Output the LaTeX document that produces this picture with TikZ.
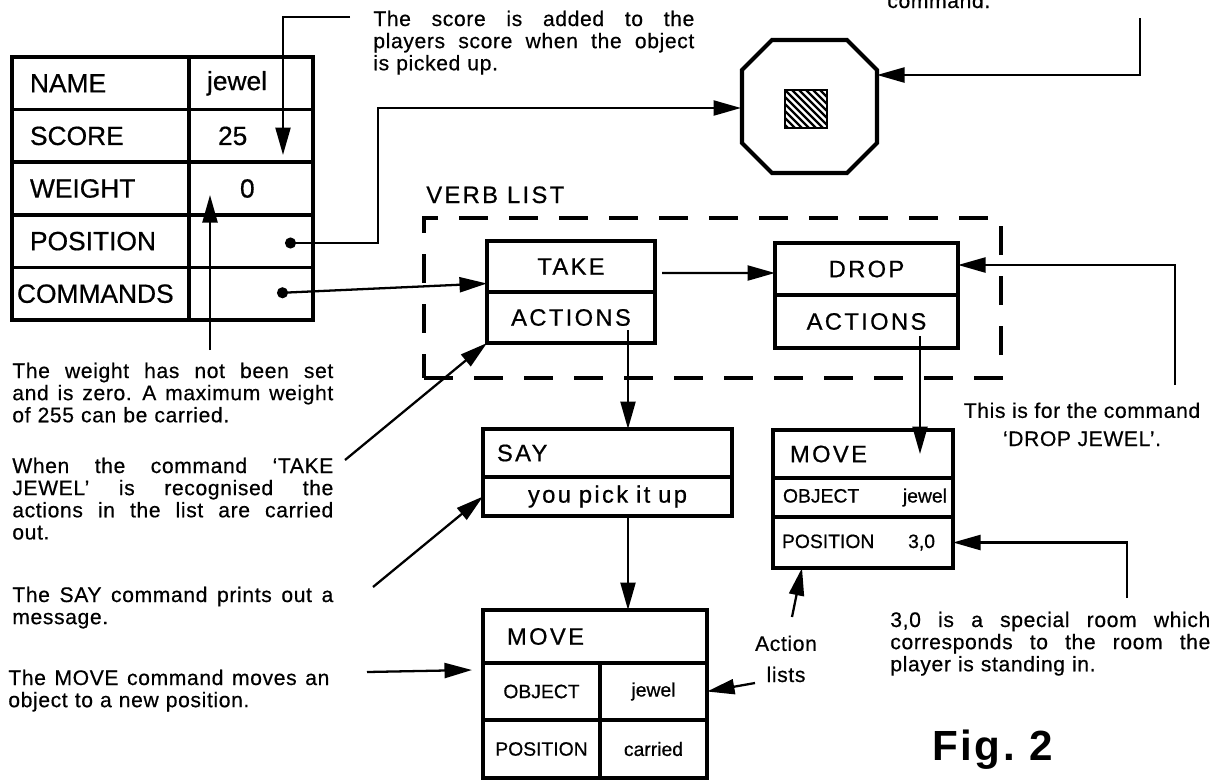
\documentclass[tikz,border=0pt]{standalone}
\usepackage{fontspec}
\setmainfont{Liberation Sans}[FakeBold=0.6]
\newfontfamily\notefont{Liberation Sans}[LetterSpace=3, FakeBold=0.5]
\newfontfamily\boxfont{Liberation Sans}[LetterSpace=10, FakeBold=0.7]
\newfontfamily\figfont{Liberation Sans}[LetterSpace=6]
\usepackage{tikz}
\usetikzlibrary{arrows.meta, positioning, calc}

% one justified line of a note
\newcommand{\jline}[1]{\makebox[\hsize][s]{\spaceskip=0.3em plus 1fil\relax #1}}

\tikzset{
  arr/.style={line width=1.3pt, -{Triangle[length=0.55cm, width=0.3cm]}},
  dotarr/.style={line width=1.3pt, {Circle[length=0.22cm]}-{Triangle[length=0.55cm, width=0.3cm]}},
  cellL/.style={draw, line width=2pt, outer sep=0pt, minimum height=1.052cm, text width=2.82cm, inner xsep=0.36cm, align=left, font=\fontsize{15}{18}\selectfont},
  cellR/.style={draw, line width=2pt, outer sep=0pt, minimum height=1.052cm, text width=1.76cm, inner xsep=0.36cm, align=left, font=\fontsize{15}{18}\selectfont},
  note/.style={anchor=base west, inner sep=0pt, text width=6.42cm, align=left, font=\notefont\fontsize{12}{12.6}\selectfont},
  vbox/.style={draw, line width=2pt, outer sep=0pt, inner sep=0pt, align=center, font=\boxfont\fontsize{13.5}{15}\selectfont},
  sbox/.style={draw, line width=2pt, outer sep=0pt, inner sep=0pt, align=center, font=\fontsize{11}{13}\selectfont},
}

\begin{document}
\begin{tikzpicture}[x=0.2mm, y=-0.2mm]
    \useasboundingbox (0,0) rectangle (1221,780);

    % object record
    \node[cellL] (nameL) at (100.5,83.3) {NAME};
    \node[cellR] (nameV) at (251,83.3) {jewel};
    \node[cellL] (scoreL) at (100.5,135.9) {SCORE};
    \node[cellR] (scoreV) at (251,135.9) {\hspace*{0.22cm}25};
    \node[cellL] (weightL) at (100.5,188.5) {WEIGHT};
    \node[cellR] (weightV) at (251,188.5) {\hspace*{0.66cm}0};
    \node[cellL] (posL) at (100.5,241.1) {POSITION};
    \node[cellR] (posV) at (251,241.1) {};
    \node[cellL, inner xsep=0.1cm, text width=3.34cm] (cmdL) at (100.5,293.7) {COMMANDS};
    \node[cellR] (cmdV) at (251,293.7) {};

    % room
    \draw[line width=2.3pt] (772,40) -- (847,40) -- (877,70) -- (877,143) -- (847,173)
        -- (772,173) -- (742,143) -- (742,70) -- cycle;
    \draw[line width=0.8pt] (785,90) rectangle (827,128);
    \begin{scope}
        \clip (785,90) rectangle (827,128);
        \foreach \k in {-42,-35,...,49}
            \draw[line width=1.4pt] (785+\k,90) -- (823+\k,128);
    \end{scope}
    \coordinate (roomW) at (741,108);
    \coordinate (roomNE) at (877,75);

    % verb list
    \node[draw, line width=2pt, dash pattern=on 0.58cm off 0.42cm, outer sep=0pt,
          minimum width=11.54cm, minimum height=3.2cm] (verbs) at (712.5,298) {};
    \node[anchor=base west, inner sep=0pt, font=\boxfont\fontsize{13.5}{15}\selectfont] (verbLbl) at (426,203) {VERB LIST};
    \node[vbox, text width=3.36cm, minimum height=1.02cm] (takeV) at (571,266.5) {TAKE};
    \node[vbox, text width=3.36cm, minimum height=1.02cm] (takeA) at (571,317.5) {ACTIONS};
    \node[vbox, text width=3.66cm, minimum height=1.05cm] (dropV) at (866.5,269) {DROP};
    \node[vbox, text width=3.66cm, minimum height=1.05cm] (dropA) at (866.5,321.5) {ACTIONS};

    % action list of TAKE
    \node[vbox, text width=4.98cm, minimum height=0.96cm, align=left] (sayV) at (607.5,453) {\hspace*{0.28cm}SAY};
    \node[vbox, text width=4.98cm, minimum height=0.78cm] (sayT) at (607.5,496.5) {you pick it up};
    \node[vbox, text width=4.48cm, minimum height=1.06cm, align=left] (moveV) at (595,636.5) {\hspace*{0.48cm}MOVE};
    \node[sbox, text width=2.34cm, minimum height=1.14cm] (moveOL) at (541.5,691.5) {OBJECT};
    \node[sbox, text width=2.14cm, minimum height=1.14cm] (moveOV) at (653.5,691.5) {jewel};
    \node[sbox, text width=2.34cm, minimum height=1.16cm] (movePL) at (541.5,749) {POSITION};
    \node[sbox, text width=2.14cm, minimum height=1.16cm] (movePV) at (653.5,749) {carried};

    % action list of DROP
    \node[vbox, text width=3.6cm, minimum height=0.96cm, align=left] (mvRV) at (863,454) {\hspace*{0.34cm}MOVE};
    \node[sbox, text width=3.6cm, minimum height=0.78cm, align=left] (mvRO) at (863,497.5) {\hspace*{0.2cm}OBJECT\hfill jewel\hspace*{0.12cm}\mbox{}};
    \node[sbox, text width=3.6cm, minimum height=1.02cm, align=left] (mvRP) at (863,542.5) {\hspace*{0.18cm}POSITION\hfill 3,0\hspace*{0.36cm}\mbox{}};

    % notes
    \node[note, anchor=base west] (scoreNote) at (373,26) {\jline{The score is added to the}\\
        \jline{players score when the object}\\ is picked up.};
    \node[anchor=base west, inner sep=0pt, font=\notefont\fontsize{12}{12.6}\selectfont] (cmdNote) at (887,8) {command.};
    \node[note] (weightNote) at (12,378) {\jline{The weight has not been set}\\
        \jline{and is zero. A maximum weight}\\ of 255 can be carried.};
    \node[note] (takeNote) at (12,473) {\jline{When the command ‘TAKE}\\
        \jline{JEWEL’ is recognised the}\\ \jline{actions in the list are carried}\\ out.};
    \node[note] (sayNote) at (12,602) {\jline{The SAY command prints out a}\\ message.};
    \node[note] (moveNote) at (8,685) {\jline{The MOVE command moves an}\\ object to a new position.};
    \node[note, text width=6.4cm] (specNote) at (890,627) {\jline{3,0 is a special room which}\\
        \jline{corresponds to the room the}\\ player is standing in.};
    \node[anchor=base, inner sep=0pt, align=center, font=\notefont\fontsize{12}{12.6}\selectfont] (dropNote) at (1082,446)
        {This is for the command\\[0.12cm] ‘DROP JEWEL’.};
    \node[anchor=base, inner sep=0pt, align=center, font=\notefont\fontsize{12}{12.6}\selectfont] (actLists) at (786,682)
        {Action\\[0.18cm] lists};
    \node[anchor=base west, inner sep=0pt, font=\figfont\bfseries\fontsize{24}{28}\selectfont] (figLbl) at (932,760) {Fig.\ 2};

    % pointers
    \coordinate (scoreEnd) at (350,17);
    \coordinate (scoreTip) at (283,155);
    \draw[arr] (scoreEnd) -| (scoreTip);
    \coordinate (weightEnd) at (210,350);
    \coordinate (weightTip) at (210,195);
    \draw[arr] (weightEnd) -- (weightTip);
    \coordinate (posDot) at (285,243);
    \coordinate (posBend) at (378,108);
    \draw[dotarr] (posDot) -| (posBend) -- (roomW);
    \coordinate (cmdDot) at (277,293);
    \draw[dotarr] (cmdDot) -- ([yshift=-0.34cm]takeV.west);
    \coordinate (cmdEnd) at (1140,18);
    \draw[arr] (cmdEnd) |- (roomNE);

    % verb links
    \draw[arr] ([xshift=0.14cm, yshift=-0.13cm]takeV.east) -- ([yshift=-0.08cm]dropV.west);
    \coordinate (dropEnd) at (1175,385);
    \draw[arr] (dropEnd) |- ([yshift=0.08cm]dropV.east);
    \coordinate (takeAct) at (628,330);
    \draw[arr] (takeAct) -- (takeAct |- sayV.north);
    \draw[arr] (takeAct |- sayT.south) -- (takeAct |- moveV.north);
    \coordinate (dropAct) at (920,336);
    \draw[arr] (dropAct) -- (dropAct |- mvRV.center);

    % note arrows
    \coordinate (takeNoteEnd) at (345,460);
    \draw[arr] (takeNoteEnd) -- (takeA.south west);
    \coordinate (sayNoteEnd) at (373,587);
    \draw[arr] (sayNoteEnd) -- (sayT.west);
    \coordinate (moveNoteEnd) at (367,672);
    \draw[arr] (moveNoteEnd) -- ([xshift=-0.22cm, yshift=-0.14cm]moveV.south west);
    \coordinate (specEnd) at (1127,598);
    \draw[arr] (specEnd) |- (mvRP.east);
    \coordinate (alUp) at (792,617);
    \draw[arr] (alUp) -- ([xshift=0.58cm]mvRP.south west);
    \coordinate (alLeft) at (755,683);
    \draw[arr] (alLeft) -- (moveOV.east);
\end{tikzpicture}
\end{document}
